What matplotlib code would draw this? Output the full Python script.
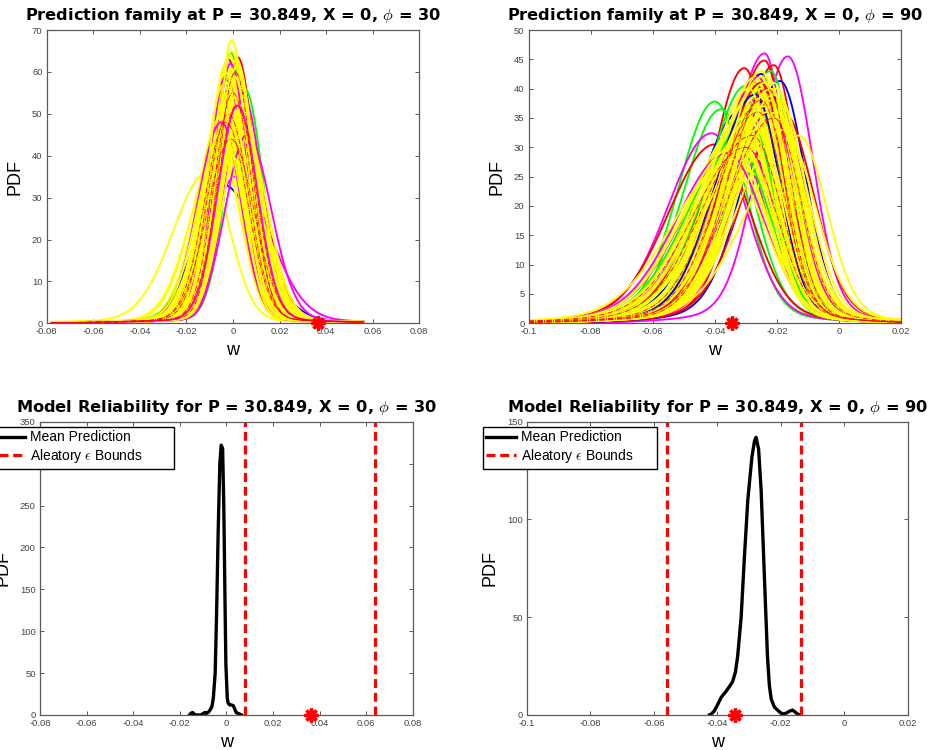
import numpy as np
import matplotlib
matplotlib.use("Agg")
import matplotlib.pyplot as plt

plt.rcParams['font.family'] = ['Liberation Sans', 'DejaVu Sans']
plt.rcParams['mathtext.fontset'] = 'cm'

# ---------------- data ----------------
# Prediction family, phi = 30 (peak location, peak height, left/right skew ratio)
fam30_color = ['b', 'b', 'b', 'b', 'b',
               'r', 'r', 'r', 'r', 'r', 'r', 'r',
               'g', 'g', 'g', 'g', 'g', 'g',
               'm', 'm', 'm', 'm', 'm', 'm', 'm',
               'y', 'y', 'y', 'y', 'y', 'y', 'y', 'y', 'y', 'y',
               'y', 'y', 'y', 'y', 'y', 'y', 'y', 'y', 'y', 'y',
               'y', 'y', 'y', 'y', 'y', 'y', 'y', 'y', 'y', 'y',
               'y', 'y', 'y', 'y', 'y', 'y', 'y', 'y', 'y', 'y',
               'y', 'y', 'y', 'y', 'y', 'y', 'y', 'y', 'y', 'y',
               'y', 'y', 'y', 'y', 'y', 'y', 'y', 'y', 'y', 'y']
fam30_center = [-0.003, -0.004, 0.000, -0.002, 0.001,
                -0.002, 0.002, 0.000, -0.001, 0.001, -0.003, 0.003,
                0.005, -0.001, 0.000, -0.002, 0.002, -0.004,
                0.004, 0.001, -0.003, -0.001, 0.006, -0.005, 0.002,
                -0.0005, -0.011, -0.004, -0.003, -0.002, -0.001, 0.000, 0.001, 0.002, 0.003,
                -0.005, -0.003, -0.002, -0.001, 0.000, 0.001, 0.002, -0.004, 0.0005, -0.0015,
                -0.0025, 0.0015, -0.006, 0.004, -0.0035, 0.0025, -0.0005, -0.002, 0.001, -0.001,
                -0.0045, -0.0035, -0.0025, -0.0015, -0.0005, 0.0005, 0.0015, 0.0025, 0.0035, -0.004,
                -0.003, -0.002, -0.001, 0.000, 0.001, 0.002, 0.003, -0.006, 0.0045, -0.0055,
                -0.0005, -0.0015, 0.0005, -0.0025, 0.0015, -0.0035, 0.0025, -0.0045, 0.0035, -0.001]
fam30_peak = [58, 33, 46, 52, 40,
              63, 63.5, 59, 47, 55, 50, 45,
              56, 64.5, 60, 42, 50, 46,
              55, 35, 59, 62, 45, 48, 52,
              67.5, 36, 55, 48, 60, 52, 58, 50, 45, 54,
              44, 62, 42, 56, 47, 61, 53, 50, 40, 64,
              46, 57, 41, 49, 53, 59, 43, 51, 55, 45,
              52, 58, 47, 61, 55, 49, 63, 44, 51, 57,
              45, 59, 50, 54, 48, 62, 46, 43, 47, 49,
              65, 53, 59, 55, 42, 60, 50, 46, 52, 40]
fam30_skew = [1.0, 0.8, 1.1, 1.2, 1.0,
              1.0, 0.9, 1.0, 1.1, 1.0, 1.2, 0.9,
              1.0, 1.0, 1.0, 1.2, 0.9, 1.3,
              0.9, 0.7, 1.0, 1.0, 0.9, 1.2, 1.0,
              1.0, 1.5, 1.1, 1.2, 1.0, 1.1, 1.0, 1.0, 0.9, 1.0,
              1.2, 1.0, 1.1, 1.0, 1.0, 0.9, 1.0, 1.1, 1.0, 1.0,
              1.2, 1.0, 1.3, 0.9, 1.1, 1.0, 1.1, 1.0, 0.9, 1.1,
              1.1, 1.0, 1.2, 1.0, 1.0, 0.9, 1.0, 1.1, 0.9, 1.1,
              1.2, 1.0, 1.1, 1.0, 0.9, 1.0, 0.9, 1.3, 0.9, 1.2,
              1.0, 1.1, 1.0, 1.1, 0.9, 1.0, 1.0, 1.2, 0.9, 1.1]

# Prediction family, phi = 90
fam90_color = ['m', 'm', 'r', 'r', 'r', 'b', 'b', 'g', 'g', 'm', 'r',
               'g', 'g', 'm', 'b', 'r', 'g', 'm', 'b', 'r', 'g', 'm', 'b',
               'm', 'g', 'b', 'r', 'm', 'g', 'm', 'r', 'g', 'b', 'm', 'g', 'r', 'm', 'b',
               'y', 'y', 'y', 'y', 'y', 'y', 'y', 'y', 'y', 'y',
               'y', 'y', 'y', 'y', 'y', 'y', 'y', 'y', 'y', 'y',
               'y', 'y', 'y', 'y', 'y', 'y', 'y', 'y', 'y',
               'y', 'y', 'y', 'y', 'y', 'y', 'y', 'y', 'y', 'y',
               'y', 'y', 'y', 'y', 'y', 'y', 'y', 'y', 'y', 'y',
               'y', 'y', 'y', 'y', 'y', 'y', 'y', 'y', 'y', 'y']
fam90_center = [-0.024, -0.0165, -0.0305, -0.024, -0.021, -0.025, -0.019, -0.040, -0.038, -0.041, -0.040,
                -0.026, -0.022, -0.028, -0.032, -0.027, -0.030, -0.020, -0.022, -0.018, -0.024, -0.033, -0.028,
                -0.027, -0.025, -0.029, -0.023, -0.031, -0.021, -0.026, -0.028, -0.033, -0.024, -0.022, -0.029,
                -0.025, -0.036, -0.027,
                -0.013, -0.030, -0.025, -0.023, -0.027, -0.021, -0.026, -0.024, -0.028, -0.022,
                -0.020, -0.029, -0.025, -0.023, -0.019, -0.031, -0.027, -0.024, -0.026, -0.022,
                -0.034, -0.021, -0.025, -0.028, -0.023, -0.030, -0.020, -0.026, -0.024,
                -0.033, -0.031, -0.029, -0.027, -0.025, -0.023, -0.021, -0.019, -0.035, -0.032,
                -0.030, -0.028, -0.026, -0.024, -0.022, -0.020, -0.018, -0.036, -0.034, -0.029,
                -0.027, -0.025, -0.023, -0.021, -0.031, -0.026, -0.024, -0.028, -0.022, -0.030]
fam90_peak = [46, 45.5, 43.5, 44.8, 44, 42.5, 41.3, 37.8, 36.5, 32.4, 30.5,
              40, 43, 35, 36, 41, 40.5, 38, 39, 36, 28, 30, 33,
              38, 34, 36, 40, 31, 39, 42, 33, 30, 37, 36, 35, 41, 29, 39,
              32, 26, 40, 42, 38, 41, 36, 39, 34, 37,
              40, 31, 33, 35, 38, 30, 42, 30, 28, 33,
              29, 36, 37, 39, 31, 33, 34, 41, 35,
              33, 35, 38, 40, 42, 39, 37, 35, 28, 31,
              36, 34, 39, 41, 38, 36, 33, 27, 30, 40,
              37, 43, 36, 39, 29, 33, 37, 35, 40, 32]
fam90_skew = [1.6, 1.2, 1.3, 1.6, 1.5, 1.6, 1.4, 1.2, 1.2, 1.3, 1.3,
              1.7, 1.6, 1.8, 1.5, 1.7, 1.6, 1.4, 1.5, 1.3, 1.9, 1.7, 1.8,
              1.8, 1.7, 1.6, 1.7, 1.5, 1.6, 1.8, 1.9, 1.5, 1.7, 1.6, 1.8, 1.7, 1.4, 1.6,
              1.8, 1.3, 1.6, 1.7, 1.6, 1.7, 1.8, 1.6, 1.7, 1.6,
              1.7, 1.6, 1.8, 1.7, 1.6, 1.5, 1.7, 1.9, 1.8, 1.7,
              1.5, 1.7, 1.6, 1.8, 1.7, 1.6, 1.6, 1.7, 1.8,
              1.6, 1.7, 1.6, 1.8, 1.7, 1.6, 1.5, 1.5, 1.4, 1.6,
              1.7, 1.8, 1.6, 1.7, 1.6, 1.5, 1.4, 1.5, 1.6, 1.7,
              1.8, 1.6, 1.7, 1.5, 1.6, 1.9, 1.7, 1.8, 1.6, 1.7]

# dash-dot overlay curves (red)
dd30_center = [-0.002, 0.000, -0.001, 0.001, -0.003, 0.0015]
dd30_peak = [50, 55, 44, 60, 48, 52]
dd90_center = [-0.026, -0.023, -0.028, -0.025, -0.030, -0.021]
dd90_peak = [36, 40, 32, 38, 30, 35]

# Mean prediction curves
mean30_w = [-0.0158, -0.0152, -0.0145, -0.0138, -0.0130, -0.0110, -0.0098, -0.0092, -0.0085,
            -0.0078, -0.0070, -0.0062, -0.0056, -0.0048, -0.0042, -0.0035, -0.0028, -0.0022,
            -0.0016, -0.0011, -0.0006, -0.0002, 0.0004, 0.0008, 0.0015, 0.0022, 0.0030,
            0.0036, 0.0042, 0.0050, 0.0058, 0.0065]
mean30_pdf = [0, 2, 3, 1, 0, 0, 2, 3, 2,
              3, 6, 10, 20, 50, 120, 220, 300, 322,
              318, 250, 140, 60, 20, 14, 12, 12, 11,
              7, 3, 2, 1, 0]
mean90_w = [-0.0425, -0.0422, -0.0410, -0.0400, -0.0388, -0.0373, -0.0360, -0.0352, -0.0343,
            -0.0336, -0.0325, -0.0315, -0.0304, -0.0291, -0.0283, -0.0278, -0.0270, -0.0262,
            -0.0255, -0.0248, -0.0242, -0.0236, -0.0230, -0.0220, -0.0210, -0.0200, -0.0190,
            -0.0180, -0.0172, -0.0163, -0.0155, -0.0147, -0.0142]
mean90_pdf = [0, 0, 2, 5, 9, 12, 15, 17, 22,
              30, 50, 80, 110, 132, 140, 142, 136, 115,
              85, 55, 30, 15, 8, 4, 2.5, 1, 0.5,
              1.2, 2.0, 2.5, 1.5, 0.5, 0]

# Observations and aleatory bounds
obs30 = 0.0365
obs90 = -0.0345
bounds30 = [0.008, 0.064]
bounds90 = [-0.056, -0.0135]

xticks30 = [-0.08, -0.06, -0.04, -0.02, 0, 0.02, 0.04, 0.06, 0.08]
xticks90 = [-0.1, -0.08, -0.06, -0.04, -0.02, 0, 0.02]
yticks_tl = [0, 10, 20, 30, 40, 50, 60, 70]
yticks_tr = [0, 5, 10, 15, 20, 25, 30, 35, 40, 45, 50]
yticks_bl = [0, 50, 100, 150, 200, 250, 300, 350]
yticks_br = [0, 50, 100, 150]

title_tl = r'Prediction family at P = 30.849, X = 0, $\phi$ = 30'
title_tr = r'Prediction family at P = 30.849, X = 0, $\phi$ = 90'
title_bl = r'Model Reliability for P = 30.849, X = 0, $\phi$ = 30'
title_br = r'Model Reliability for P = 30.849, X = 0, $\phi$ = 90'
legend_labels = ['Mean Prediction', r'Aleatory $\epsilon$ Bounds']

MCOL = {'b': (0, 0, 1), 'r': (1, 0, 0), 'g': (0, 1, 0), 'm': (1, 0, 1), 'y': (1, 1, 0)}

# ---------------- helpers ----------------
def pdf_shape(x, c, p, skew, width, tail_frac, tail_scale):
    sr = width / (p * np.sqrt(np.pi / 2) * (1 + skew))
    sl = skew * sr
    s = np.where(x < c, sl, sr)
    core = np.exp(-0.5 * ((x - c) / s) ** 2)
    tail = np.exp(-0.5 * ((x - c) / (s * tail_scale)) ** 2)
    return p * ((1 - tail_frac) * core + tail_frac * tail)


def draw_order(colors):
    """Interleave: mostly yellow drawn over coloured lines, some coloured on top."""
    col = [i for i, c in enumerate(colors) if c != 'y']
    yel = [i for i, c in enumerate(colors) if c == 'y']
    first = col[: int(len(col) * 0.6)]
    rest = col[int(len(col) * 0.6):]
    order = list(first)
    step = max(1, len(yel) // max(1, len(rest)))
    for k, yi in enumerate(yel):
        order.append(yi)
        if rest and (k + 1) % step == 0:
            order.append(rest.pop(0))
    order.extend(rest)
    return order


def style_axes(ax, xticks, yticks, xlim, ylim):
    ax.set_xlim(xlim)
    ax.set_ylim(ylim)
    ax.set_xticks(xticks)
    ax.set_xticklabels(['{:g}'.format(t) for t in xticks])
    ax.set_yticks(yticks)
    ax.set_yticklabels(['{:g}'.format(t) for t in yticks])
    ax.tick_params(direction='in', length=3, width=0.7, colors='#555555',
                   labelcolor='#444444', labelsize=6.8, top=True, right=True, pad=3)
    for sp in ax.spines.values():
        sp.set_color('#5a5a5a')
        sp.set_linewidth(0.9)
    ax.set_xlabel('w', fontsize=13, labelpad=4)
    ax.set_ylabel('PDF', fontsize=13, labelpad=6)


def set_title(ax, text):
    ax.set_title(text, fontsize=11.7, fontweight='bold', pad=7, family=['DejaVu Sans'])


fig = plt.figure(figsize=(9.36, 7.5), dpi=100)
W, H = 936.0, 750.0

def add_axes(l, r, t, b):
    return fig.add_axes([l / W, 1 - b / H, (r - l) / W, (b - t) / H])

ax_tl = add_axes(46.7, 419.3, 30, 323.3)
ax_tr = add_axes(528.7, 901, 30, 323.3)
ax_bl = add_axes(40, 412.7, 421.7, 715)
ax_br = add_axes(527, 907.7, 421.7, 715)

FAM_LW = 1.35

# ---- top-left family ----
x30 = np.linspace(-0.078, 0.056, 700)
for i in draw_order(fam30_color):
    y = pdf_shape(x30, fam30_center[i], fam30_peak[i], fam30_skew[i], 1.1, 0.02, 4.0)
    ax_tl.plot(x30, y, color=MCOL[fam30_color[i]], lw=FAM_LW)
for c, p in zip(dd30_center, dd30_peak):
    ax_tl.plot(x30, pdf_shape(x30, c, p, 1.0, 1.1, 0.02, 4.0), color=(1, 0, 0), lw=0.6, ls='-.')
ax_tl.plot([obs30], [0], marker=(8, 2, 0), color='red', ms=10, mew=2.4, clip_on=False, zorder=10)
style_axes(ax_tl, xticks30, yticks_tl, (-0.08, 0.08), (0, 70))
set_title(ax_tl, title_tl)

# ---- top-right family ----
x90 = np.linspace(-0.1, 0.02, 700)
for i in draw_order(fam90_color):
    y = pdf_shape(x90, fam90_center[i], fam90_peak[i], fam90_skew[i], 1.0, 0.05, 2.6)
    ax_tr.plot(x90, y, color=MCOL[fam90_color[i]], lw=FAM_LW)
for c, p in zip(dd90_center, dd90_peak):
    ax_tr.plot(x90, pdf_shape(x90, c, p, 1.7, 1.0, 0.05, 2.6), color=(1, 0, 0), lw=0.6, ls='-.')
ax_tr.plot([obs90], [0], marker=(8, 2, 0), color='red', ms=10, mew=2.4, clip_on=False, zorder=10)
style_axes(ax_tr, xticks90, yticks_tr, (-0.1, 0.02), (0, 50))
set_title(ax_tr, title_tr)

# ---- bottom-left reliability ----
h1, = ax_bl.plot(mean30_w, mean30_pdf, color='black', lw=2.4)
h2 = None
for b in bounds30:
    h2 = ax_bl.axvline(b, color='red', lw=2.3, ls=(0, (2.8, 1.5)))
ax_bl.plot([obs30], [0], marker=(8, 2, 0), color='red', ms=10, mew=2.4, clip_on=False, zorder=10)
style_axes(ax_bl, xticks30, yticks_bl, (-0.08, 0.08), (0, 350))
set_title(ax_bl, title_bl)
fig.legend([h1, h2], legend_labels, loc='upper left',
           bbox_to_anchor=(-8 / W, 1 - 462 / H, 182 / W, 35 / H), mode='expand',
           fontsize=10, handlelength=2.15, handletextpad=0.3, borderpad=0.25,
           labelspacing=0.2, borderaxespad=0, fancybox=False, framealpha=1,
           edgecolor='black')

# ---- bottom-right reliability ----
h1, = ax_br.plot(mean90_w, mean90_pdf, color='black', lw=2.4)
for b in bounds90:
    h2 = ax_br.axvline(b, color='red', lw=2.3, ls=(0, (2.8, 1.5)))
ax_br.plot([obs90], [0], marker=(8, 2, 0), color='red', ms=10, mew=2.4, clip_on=False, zorder=10)
style_axes(ax_br, xticks90, yticks_br, (-0.1, 0.02), (0, 150))
set_title(ax_br, title_br)
fig.legend([h1, h2], legend_labels, loc='upper left',
           bbox_to_anchor=(483 / W, 1 - 462 / H, 174 / W, 35 / H), mode='expand',
           fontsize=10, handlelength=2.15, handletextpad=0.3, borderpad=0.25,
           labelspacing=0.2, borderaxespad=0, fancybox=False, framealpha=1,
           edgecolor='black')

fig.savefig('out.png', dpi=100)
